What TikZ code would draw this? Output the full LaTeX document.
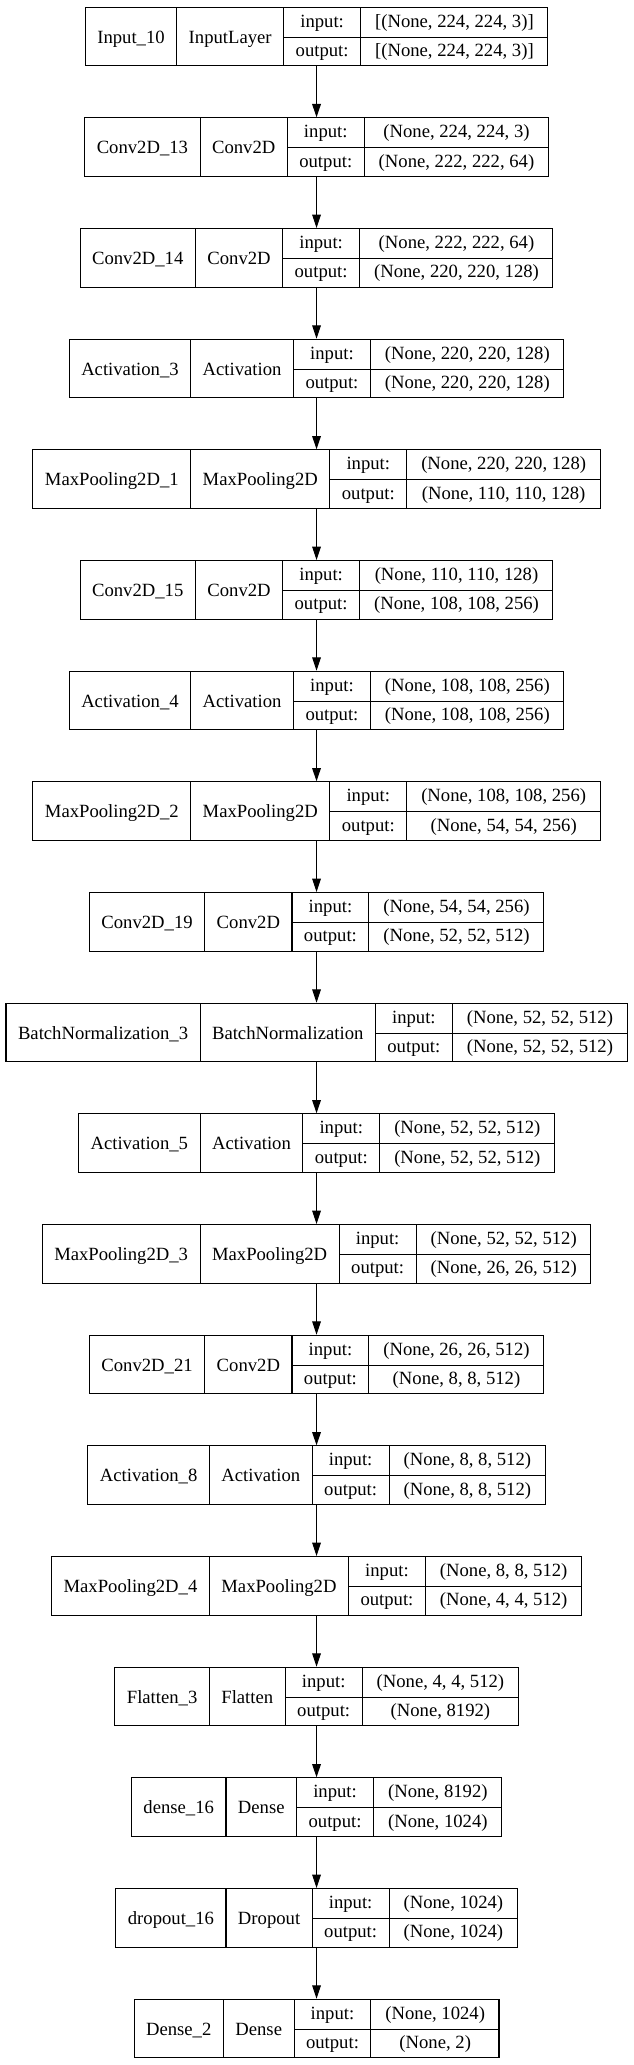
\documentclass[tikz,border=0pt]{standalone}
\usepackage{fontspec}
\setmainfont{Liberation Serif}
\usepackage{tikz}
\usetikzlibrary{arrows.meta,positioning}
\setlength{\arrayrulewidth}{0.8pt}
\setlength{\tabcolsep}{9pt}
\newcommand{\rowstrut}{\rule[-7pt]{0pt}{22pt}}
\newcommand{\drop}[1]{\raisebox{-12pt}[0pt][0pt]{#1}}
% one keras layer: name, class, input shape, output shape
\newcommand{\lyr}[4]{%
  \begin{tabular}{c|c|c|@{\hspace{10.5pt}}c@{\hspace{10.5pt}}}
    \drop{#1} & \drop{#2} & input:\rowstrut & #3\\ \cline{3-4}
     & & output:\rowstrut & #4
  \end{tabular}}

\begin{document}
\begin{tikzpicture}[
    node distance=38.2pt,
    layer/.style={draw,line width=0.8pt,inner sep=0pt,font=\fontsize{14}{17}\selectfont},
    arrow/.style={-{Triangle[length=10pt,width=6.5pt]},line width=0.75pt}
  ]
    \useasboundingbox (0,0) rectangle (474.75pt,-1548.75pt);

    \node[layer] (inp) at (237.4pt,-27.4pt) {\lyr{Input\_10}{InputLayer}{[(None, 224, 224, 3)]}{[(None, 224, 224, 3)]}};
    \node[layer,below=of inp] (conv13) {\lyr{Conv2D\_13}{Conv2D}{(None, 224, 224, 3)}{(None, 222, 222, 64)}};
    \node[layer,below=of conv13] (conv14) {\lyr{Conv2D\_14}{Conv2D}{(None, 222, 222, 64)}{(None, 220, 220, 128)}};
    \node[layer,below=of conv14] (act3) {\lyr{Activation\_3}{Activation}{(None, 220, 220, 128)}{(None, 220, 220, 128)}};
    \node[layer,below=of act3] (pool1) {\lyr{MaxPooling2D\_1}{MaxPooling2D}{(None, 220, 220, 128)}{(None, 110, 110, 128)}};
    \node[layer,below=of pool1] (conv15) {\lyr{Conv2D\_15}{Conv2D}{(None, 110, 110, 128)}{(None, 108, 108, 256)}};
    \node[layer,below=of conv15] (act4) {\lyr{Activation\_4}{Activation}{(None, 108, 108, 256)}{(None, 108, 108, 256)}};
    \node[layer,below=of act4] (pool2) {\lyr{MaxPooling2D\_2}{MaxPooling2D}{(None, 108, 108, 256)}{(None, 54, 54, 256)}};
    \node[layer,below=of pool2] (conv19) {\lyr{Conv2D\_19}{Conv2D}{(None, 54, 54, 256)}{(None, 52, 52, 512)}};
    \node[layer,below=of conv19] (bn3) {\lyr{BatchNormalization\_3}{BatchNormalization}{(None, 52, 52, 512)}{(None, 52, 52, 512)}};
    \node[layer,below=of bn3] (act5) {\lyr{Activation\_5}{Activation}{(None, 52, 52, 512)}{(None, 52, 52, 512)}};
    \node[layer,below=of act5] (pool3) {\lyr{MaxPooling2D\_3}{MaxPooling2D}{(None, 52, 52, 512)}{(None, 26, 26, 512)}};
    \node[layer,below=of pool3] (conv21) {\lyr{Conv2D\_21}{Conv2D}{(None, 26, 26, 512)}{(None, 8, 8, 512)}};
    \node[layer,below=of conv21] (act8) {\lyr{Activation\_8}{Activation}{(None, 8, 8, 512)}{(None, 8, 8, 512)}};
    \node[layer,below=of act8] (pool4) {\lyr{MaxPooling2D\_4}{MaxPooling2D}{(None, 8, 8, 512)}{(None, 4, 4, 512)}};
    \node[layer,below=of pool4] (flat3) {\lyr{Flatten\_3}{Flatten}{(None, 4, 4, 512)}{(None, 8192)}};
    \node[layer,below=of flat3] (dense16) {\lyr{dense\_16}{Dense}{(None, 8192)}{(None, 1024)}};
    \node[layer,below=of dense16] (drop16) {\lyr{dropout\_16}{Dropout}{(None, 1024)}{(None, 1024)}};
    \node[layer,below=of drop16] (dense2) {\lyr{Dense\_2}{Dense}{(None, 1024)}{(None, 2)}};

    \draw[arrow] (inp) -- (conv13);
    \draw[arrow] (conv13) -- (conv14);
    \draw[arrow] (conv14) -- (act3);
    \draw[arrow] (act3) -- (pool1);
    \draw[arrow] (pool1) -- (conv15);
    \draw[arrow] (conv15) -- (act4);
    \draw[arrow] (act4) -- (pool2);
    \draw[arrow] (pool2) -- (conv19);
    \draw[arrow] (conv19) -- (bn3);
    \draw[arrow] (bn3) -- (act5);
    \draw[arrow] (act5) -- (pool3);
    \draw[arrow] (pool3) -- (conv21);
    \draw[arrow] (conv21) -- (act8);
    \draw[arrow] (act8) -- (pool4);
    \draw[arrow] (pool4) -- (flat3);
    \draw[arrow] (flat3) -- (dense16);
    \draw[arrow] (dense16) -- (drop16);
    \draw[arrow] (drop16) -- (dense2);
  \end{tikzpicture}
\end{document}
